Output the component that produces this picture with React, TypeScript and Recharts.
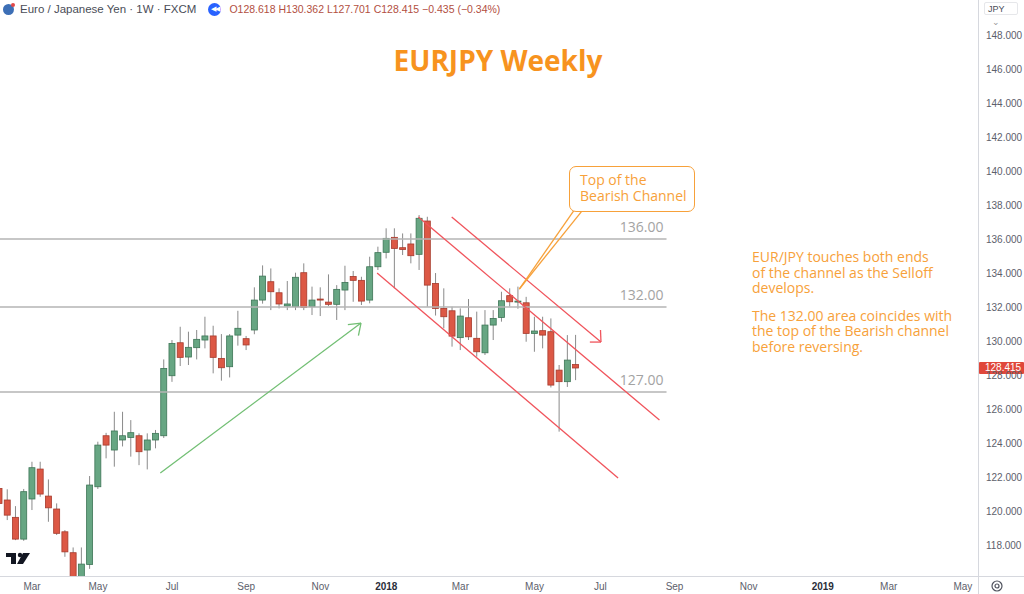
import React from 'react';
import { ComposedChart, Bar, XAxis, YAxis, ReferenceLine } from 'recharts';

// ---------- categories (weekly bars) ----------
const FIRST_WEEK_UTC = Date.UTC(2017, 1, 6);
const SLOT_COUNT = 119;
const LABELED_MONTHS = [0, 2, 4, 6, 8, 10];
const tickLabels = ['Mar', 'May', 'Jul', 'Sep', 'Nov', '2018', 'Mar', 'May', 'Jul', 'Sep', 'Nov', '2019', 'Mar', 'May'];

// ---------- series values (EUR/JPY weekly OHLC) ----------
const opens = [
  121.33, 120.65, 119.63, 118.35, 120.71, 122.47, 120.88, 120.12, 118.78, 117.55,
  116.0, 116.86, 121.43, 124.43, 123.59, 124.18, 124.33, 124.43, 123.59, 124.18,
  124.43, 127.96, 129.9, 129.06, 129.61, 130.06, 130.3, 128.98, 128.49, 130.35,
  130.14, 130.65, 132.41, 133.49, 132.84, 132.06, 132.02, 134.02, 132.02, 132.47,
  132.29, 132.16, 133.0, 133.8, 133.57, 132.41, 134.37, 135.22, 136.1, 135.49,
  135.71, 135.1, 137.06, 133.39, 131.92, 131.78, 130.2, 131.37, 130.16, 129.31,
  130.94, 131.39, 132.67, 132.3, 132.25, 130.45, 130.61, 130.55, 128.29, 127.61,
  128.618,
];
const highs = [
  121.7, 121.28, 120.29, 121.3, 122.9, 122.9, 121.86, 120.45, 118.88, 117.86,
  117.86, 122.06, 124.08, 124.6, 125.84, 125.84, 125.35, 124.57, 124.57, 124.77,
  128.92, 130.06, 130.84, 130.55, 130.65, 131.43, 130.9, 130.41, 130.41, 131.78,
  130.3, 133.16, 134.45, 134.27, 133.1, 133.53, 134.02, 134.57, 133.2, 133.16,
  133.92, 133.29, 134.43, 134.12, 133.78, 134.96, 135.55, 136.63, 136.63, 136.33,
  136.33, 137.41, 137.31, 134.0, 133.1, 132.02, 131.92, 132.47, 131.73, 131.82,
  131.82, 132.9, 133.1, 133.2, 132.6, 131.43, 131.43, 131.33, 128.59, 130.35,
  130.362,
];
const lows = [
  120.2, 119.47, 118.29, 118.25, 120.06, 120.84, 119.37, 118.59, 117.31, 115.6,
  115.7, 116.6, 121.3, 123.1, 122.61, 123.8, 123.2, 122.7, 122.45, 123.69,
  124.3, 127.6, 128.53, 128.59, 128.92, 129.57, 128.1, 127.67, 127.86, 129.73,
  129.47, 130.4, 132.2, 131.82, 131.92, 131.82, 131.82, 131.82, 131.53, 131.47,
  132.06, 131.24, 131.82, 132.31, 132.12, 132.22, 134.18, 134.86, 133.1, 135.06,
  134.57, 134.18, 132.02, 131.5, 130.75, 129.67, 129.47, 130.06, 129.08, 129.18,
  130.06, 131.14, 132.02, 131.9, 129.96, 129.37, 129.57, 127.27, 124.67, 127.3,
  127.701,
];
const closes = [
  120.45, 119.76, 118.35, 121.14, 122.55, 121.0, 120.19, 118.69, 117.6, 116.0,
  116.88, 121.53, 123.88, 123.88, 124.71, 124.43, 124.61, 123.49, 124.18, 124.57,
  128.39, 129.86, 129.04, 129.63, 130.1, 130.3, 129.04, 128.43, 130.3, 130.75,
  129.77, 132.41, 133.82, 132.9, 132.18, 132.18, 133.75, 131.98, 132.41, 132.41,
  132.16, 133.04, 133.45, 133.57, 132.35, 134.37, 135.2, 136.04, 135.45, 135.39,
  135.02, 137.22, 133.29, 131.92, 131.43, 130.29, 131.47, 130.25, 129.37, 130.94,
  131.33, 132.37, 132.31, 132.35, 130.45, 130.59, 130.35, 127.41, 127.61, 128.88,
  128.415,
];

// ---------- price axis ----------
const Y_MIN = 116.18;
const Y_MAX = 150.06;
const priceTicks = [118, 120, 122, 124, 126, 128, 130, 132, 134, 136, 138, 140, 142, 144, 146, 148];

// ---------- drawings (in bar-index / price units) ----------
const levelValues = [136, 132, 127];
const levelLabels = ['136.00', '132.00', '127.00'];
const levelEndSlot = 80.84;
const channelSegments = [
  [[46.0, 134.0], [75.01, 121.94]],
  [[50.97, 137.29], [79.99, 125.35]],
  [[54.98, 137.29], [72.95, 129.94]],
  [[71.61, 129.94], [72.95, 129.94]],
  [[72.89, 130.65], [72.95, 129.94]],
];
const trendSegments = [
  [[19.9, 122.24], [44.06, 131.06]],
  [[42.48, 130.97], [44.06, 131.06]],
  [[43.75, 130.32], [44.06, 131.06]],
];
const calloutSegments = [
  [[63.12, 133.06], [70.06, 137.94]],
  [[63.12, 133.06], [71.13, 137.94]],
];

// ---------- build table ----------
const weekStarts = Array.from({ length: SLOT_COUNT }, (_, i) => new Date(FIRST_WEEK_UTC + i * 7 * 86400000));
const categories = weekStarts.map((d) => d.toISOString().slice(0, 10));
const tickSlots = weekStarts
  .map((d, i) => (d.getUTCDate() <= 7 && LABELED_MONTHS.includes(d.getUTCMonth()) ? i : -1))
  .filter((i) => i >= 0);
const tickLabelOf: Record<string, string> = {};
tickSlots.forEach((s, k) => {
  if (k < tickLabels.length) tickLabelOf[categories[s]] = tickLabels[k];
});
const tickCategories = Object.keys(tickLabelOf);

const data = categories.map((week, i) =>
  i < opens.length
    ? {
        week,
        open: opens[i],
        high: highs[i],
        low: lows[i],
        close: closes[i],
        spanLow: Math.max(lows[i], Y_MIN + 0.02),
        span: [Math.max(lows[i], Y_MIN + 0.02), highs[i]],
      }
    : { week, span: null }
);

const UP_FILL = '#67a683';
const UP_STROKE = '#3d7556';
const DOWN_FILL = '#dc5845';
const DOWN_STROKE = '#a63a2c';

const Candle = (props: any) => {
  const { x, y, width, height, payload } = props;
  if (!payload || payload.open == null || y == null || height == null || !isFinite(height)) return <g />;
  const { open, close, high, spanLow } = payload;
  const top = Math.min(y, y + height);
  const bottom = Math.max(y, y + height);
  const ppu = (bottom - top) / (high - spanLow || 1);
  const yOf = (v: number) => top + (high - v) * ppu;
  const up = close >= open;
  const bTop = yOf(Math.max(open, close));
  const bBot = yOf(Math.min(open, close));
  const cx = x + width / 2;
  return (
    <g>
      <line x1={cx} x2={cx} y1={yOf(payload.high)} y2={yOf(payload.low)} stroke="#8a8a8a" strokeWidth={1} />
      <rect
        x={x}
        y={bTop}
        width={width}
        height={Math.max(1, bBot - bTop)}
        fill={up ? UP_FILL : DOWN_FILL}
        stroke={up ? UP_STROKE : DOWN_STROKE}
        strokeWidth={0.8}
      />
    </g>
  );
};

const XTick = (props: any) => {
  const { x, y, payload } = props;
  const label = tickLabelOf[payload.value];
  if (!label) return <g />;
  const isYear = /^\d{4}$/.test(label);
  return (
    <text
      x={x}
      y={y + 6}
      textAnchor="middle"
      fontSize={10}
      fontFamily="'Liberation Sans', Arial, sans-serif"
      fontWeight={isYear ? 700 : 400}
      fill={isYear ? '#2a2e39' : '#5d606b'}
    >
      {label}
    </text>
  );
};

const LevelLabel = (props: any) => {
  const { viewBox, text } = props;
  if (!viewBox) return null;
  return (
    <text
      x={viewBox.x + viewBox.width - 3}
      y={viewBox.y - 7}
      textAnchor="end"
      fontSize={14}
      fontFamily="'Open Sans', sans-serif"
      fill="#a3a3a3"
    >
      {text}
    </text>
  );
};

const PriceTag = (props: any) => {
  const { viewBox, text } = props;
  if (!viewBox) return null;
  const x0 = viewBox.x + viewBox.width + 1;
  return (
    <g>
      <rect x={x0} y={viewBox.y - 6} width={45} height={12} fill="#e0473a" rx={1} />
      <text
        x={x0 + 6}
        y={viewBox.y + 3.5}
        fontSize={10}
        fontFamily="'Liberation Sans', Arial, sans-serif"
        fill="#ffffff"
      >
        {text}
      </text>
    </g>
  );
};

const seg = (s: number[][]) => [
  { x: s[0][0], y: s[0][1] },
  { x: s[1][0], y: s[1][1] },
];

const ORANGE = '#f7a13a';
const textFont = "'Open Sans', sans-serif";

export default function App() {
  const lastClose = closes[closes.length - 1];
  return (
    <div
      style={{
        position: 'fixed',
        left: 0,
        top: 0,
        width: 1024,
        height: 594,
        overflow: 'hidden',
        background: '#ffffff',
      }}
    >
      <div style={{ position: 'absolute', left: -5, top: 0 }}>
        <ComposedChart width={1029} height={594} data={data} margin={{ top: 0, right: 0, left: 0, bottom: 0 }}>
          <XAxis
            xAxisId="cat"
            dataKey="week"
            type="category"
            ticks={tickCategories}
            interval={0}
            height={18}
            padding={{ left: 0, right: 2.8 }}
            axisLine={false}
            tickLine={false}
            tick={<XTick />}
          />
          <XAxis
            xAxisId="num"
            type="number"
            domain={[-0.5, 118.5]}
            allowDataOverflow
            hide
            padding={{ left: 0, right: 2.8 }}
          />
          <YAxis
            yAxisId="p"
            orientation="right"
            domain={[Y_MIN, Y_MAX]}
            allowDataOverflow
            ticks={priceTicks}
            interval={0}
            width={46}
            axisLine={false}
            tickLine={false}
            tickFormatter={(v: number) => v.toFixed(3)}
            tick={{ fontSize: 10, fill: '#5d606b', fontFamily: "'Liberation Sans', Arial, sans-serif" }}
          />
          {levelValues.map((v, i) => (
            <ReferenceLine
              key={'lv' + i}
              xAxisId="num"
              yAxisId="p"
              segment={[
                { x: -0.5, y: v },
                { x: levelEndSlot, y: v },
              ]}
              stroke="#b4b4b4"
              strokeWidth={1.4}
              ifOverflow="visible"
              label={<LevelLabel text={levelLabels[i]} />}
            />
          ))}
          <Bar
            xAxisId="cat"
            yAxisId="p"
            dataKey="span"
            barSize={6}
            isAnimationActive={false}
            shape={(p: any) => <Candle {...p} />}
          />
          {channelSegments.map((s, i) => (
            <ReferenceLine
              key={'ch' + i}
              xAxisId="num"
              yAxisId="p"
              segment={seg(s)}
              stroke="#f0545c"
              strokeWidth={1.3}
              ifOverflow="visible"
            />
          ))}
          {trendSegments.map((s, i) => (
            <ReferenceLine
              key={'tr' + i}
              xAxisId="num"
              yAxisId="p"
              segment={seg(s)}
              stroke="#72bf74"
              strokeWidth={1.3}
              ifOverflow="visible"
            />
          ))}
          {calloutSegments.map((s, i) => (
            <ReferenceLine
              key={'co' + i}
              xAxisId="num"
              yAxisId="p"
              segment={seg(s)}
              stroke={ORANGE}
              strokeWidth={1.3}
              ifOverflow="visible"
            />
          ))}
          <ReferenceLine
            xAxisId="num"
            yAxisId="p"
            y={lastClose}
            stroke="none"
            strokeWidth={0}
            ifOverflow="visible"
            label={<PriceTag text={lastClose.toFixed(3)} />}
          />
        </ComposedChart>
      </div>

      {/* frame lines */}
      <div style={{ position: 'absolute', left: 978, top: 0, width: 1, height: 594, background: '#d6d8de' }} />
      <div style={{ position: 'absolute', left: 0, top: 576, width: 1024, height: 1, background: '#d6d8de' }} />

      {/* header */}
      <div
        style={{
          position: 'absolute',
          left: 3,
          top: 2,
          height: 14,
          display: 'flex',
          alignItems: 'center',
          fontFamily: "'Liberation Sans', Arial, sans-serif",
          whiteSpace: 'nowrap',
        }}
      >
        <span
          style={{
            display: 'inline-block',
            width: 11,
            height: 11,
            borderRadius: 6,
            background: '#3d6fb6',
            position: 'relative',
            marginRight: 6,
          }}
        >
          <span
            style={{
              position: 'absolute',
              right: -1,
              top: -1,
              width: 4,
              height: 4,
              borderRadius: 2,
              background: '#e04848',
            }}
          />
        </span>
        <span style={{ fontSize: 11.5, color: '#4a4d57' }}>Euro / Japanese Yen · 1W · FXCM</span>
        <span
          style={{
            display: 'inline-flex',
            alignItems: 'center',
            justifyContent: 'center',
            width: 13,
            height: 13,
            borderRadius: 7,
            background: '#2962ff',
            color: '#fff',
            fontSize: 7,
            marginLeft: 12,
            marginRight: 8,
            letterSpacing: -1,
          }}
        >
          ◀◀
        </span>
        <span style={{ fontSize: 10.5, color: '#b24f3f' }}>
          O128.618 H130.362 L127.701 C128.415 −0.435 (−0.34%)
        </span>
      </div>

      {/* currency box */}
      <div
        style={{
          position: 'absolute',
          left: 984,
          top: 2,
          width: 34,
          height: 13,
          border: '1px solid #e6e7ea',
          borderRadius: 2,
          fontSize: 9,
          color: '#4a4d57',
          fontFamily: "'Liberation Sans', Arial, sans-serif",
          lineHeight: '13px',
          paddingLeft: 3,
          boxSizing: 'border-box',
        }}
      >
        JPY <span style={{ color: '#999', marginLeft: 4 }}>⌄</span>
      </div>

      {/* title */}
      <div
        style={{
          position: 'absolute',
          left: 300,
          width: 396,
          top: 40,
          textAlign: 'center',
          fontFamily: textFont,
          fontWeight: 700,
          fontSize: 28,
          color: '#f7931e',
          lineHeight: '40px',
        }}
      >
        EURJPY Weekly
      </div>

      {/* callout */}
      <div
        style={{
          position: 'absolute',
          left: 569,
          top: 166,
          width: 126,
          height: 46,
          boxSizing: 'border-box',
          border: '1.5px solid ' + ORANGE,
          borderRadius: 7,
          background: '#ffffff',
          padding: '5px 0 0 10px',
          fontFamily: textFont,
          fontSize: 14,
          lineHeight: '16px',
          color: ORANGE,
        }}
      >
        <div>Top of the</div>
        <div>Bearish Channel</div>
      </div>

      {/* commentary */}
      <div
        style={{
          position: 'absolute',
          left: 752,
          top: 249,
          fontFamily: textFont,
          fontSize: 14,
          lineHeight: '15.5px',
          color: ORANGE,
          whiteSpace: 'nowrap',
        }}
      >
        <div>EUR/JPY touches both ends</div>
        <div>of the channel as the Selloff</div>
        <div>develops.</div>
        <div style={{ marginTop: 12 }}>The 132.00 area coincides with</div>
        <div>the top of the Bearish channel</div>
        <div>before reversing.</div>
      </div>

      {/* logo */}
      <svg style={{ position: 'absolute', left: 4, top: 551 }} width={28} height={16}>
        <rect x={2} y={2} width={10} height={4} fill="#131722" />
        <rect x={7} y={2} width={5} height={11} fill="#131722" />
        <circle cx={16} cy={4} r={2.2} fill="#131722" />
        <polygon points="19,2 26,2 19,13 13,13" fill="#131722" />
      </svg>

      {/* settings icon */}
      <svg style={{ position: 'absolute', left: 990, top: 579 }} width={14} height={14}>
        <circle cx={7} cy={7} r={5} fill="none" stroke="#50535e" strokeWidth={1.2} />
        <circle cx={7} cy={7} r={2} fill="none" stroke="#50535e" strokeWidth={1.2} />
      </svg>
    </div>
  );
}
